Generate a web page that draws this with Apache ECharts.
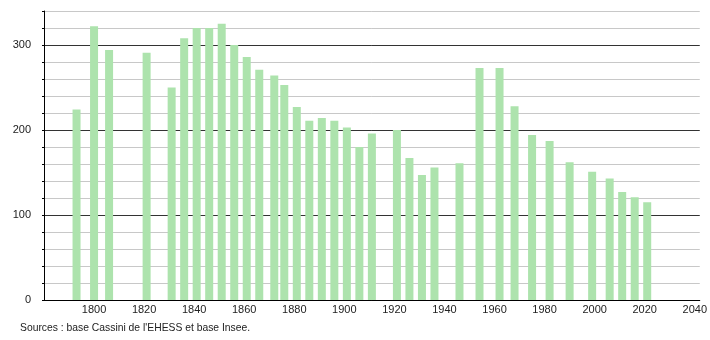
<!DOCTYPE html>
<html>
<head>
<meta charset="utf-8">
<script src="https://cdn.jsdelivr.net/npm/echarts@6/dist/echarts.min.js"></script>
<style>
html,body{margin:0;padding:0;background:#fff;}
#chart{width:710px;height:340px;}
</style>
</head>
<body>
<div id="chart"></div>
<script>
const years = [1793,1800,1806,1821,1831,1836,1841,1846,1851,1856,1861,1866,1872,1876,1881,1886,1891,1896,1901,1906,1911,1921,1926,1931,1936,1946,1954,1962,1968,1975,1982,1990,1999,2006,2011,2016,2021];
const population = [224,322,294,291,250,308,320,320,325,300,286,271,264,253,227,211,214,211,203,180,196,200,167,147,156,161,273,273,228,194,187,162,151,143,127,121,115];
const yTickValues = [0,100,200,300];
const xTickLabels = [1800,1820,1840,1860,1880,1900,1920,1940,1960,1980,2000,2020,2040];
const sourceText = "Sources : base Cassini de l'EHESS et base Insee.";

const FONT = "'Liberation Sans',Arial,sans-serif";
const chart = echarts.init(document.getElementById('chart'), null, {renderer:'canvas'});
chart.setOption({
  animation:false,
  backgroundColor:'#fff',
  grid:{left:44,right:10,top:11,bottom:40,containLabel:false},
  xAxis:{
    type:'value', min:1780, max:2042, interval:20,
    axisLine:{show:true,lineStyle:{color:'#000',width:1}},
    axisTick:{show:false},
    splitLine:{show:false},
    axisLabel:{
      color:'#222', fontFamily:FONT, fontSize:11, margin:4,
      showMinLabel:true, showMaxLabel:true,
      formatter:v=> xTickLabels.indexOf(v)>=0 ? String(v) : ''
    }
  },
  yAxis:{
    type:'value', min:0, max:340, interval:20,
    axisLine:{show:true,lineStyle:{color:'#000',width:1}},
    axisTick:{show:true,length:2,lineStyle:{color:'#000'}},
    splitLine:{show:true,lineStyle:{color:['#333','#c8c8c8','#c8c8c8','#c8c8c8','#c8c8c8'],width:1}},
    axisLabel:{
      color:'#222', fontFamily:FONT, fontSize:11, margin:13,
      formatter:v=> yTickValues.indexOf(v)>=0 ? String(v) : ''
    }
  },
  series:[{
    type:'bar',
    data:years.map((y,i)=>[y,population[i]]),
    barWidth:8,
    itemStyle:{color:'#ade3ad'}
  }],
  graphic:[{
    type:'text', x:20, y:322, scaleX:0.94, originX:0,
    style:{text:sourceText, fill:'#222', font:"11px "+FONT}
  }]
});
</script>
</body>
</html>
